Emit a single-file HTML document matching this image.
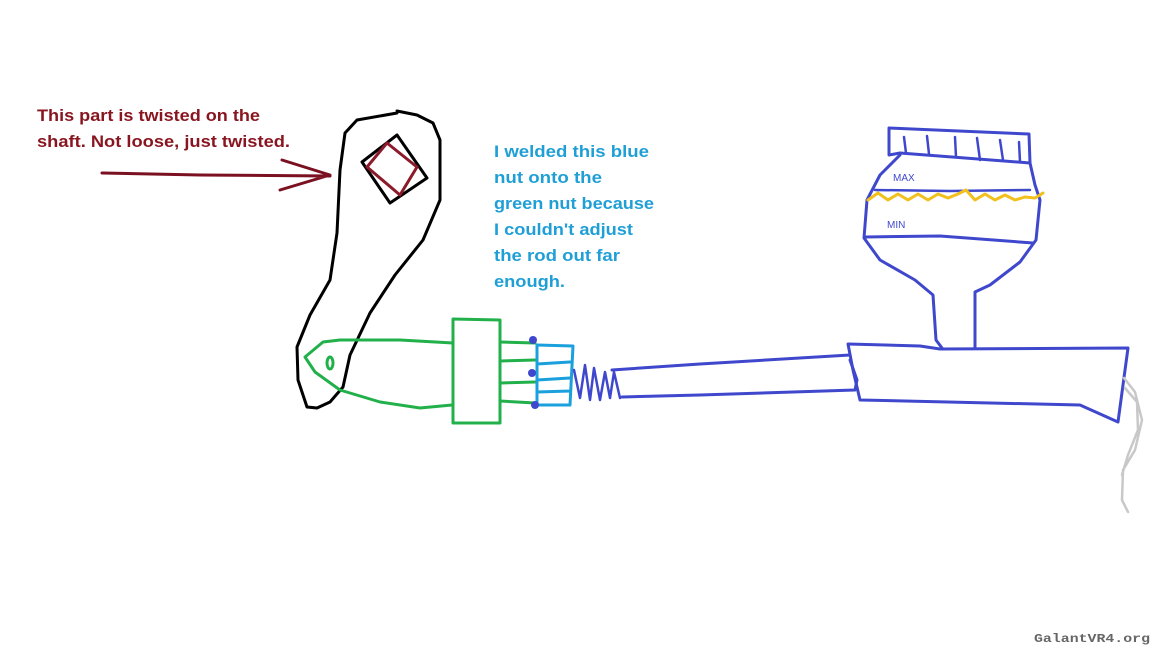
<!DOCTYPE html>
<html><head><meta charset="utf-8"><style>
html,body{margin:0;padding:0;background:#fff;}
svg{display:block;}
text{font-family:"Liberation Sans",sans-serif;font-weight:bold;}
</style></head><body>
<svg width="1152" height="648" viewBox="0 0 1152 648" xmlns="http://www.w3.org/2000/svg">
<rect width="1152" height="648" fill="#fff"/>
<g font-size="16.5" fill="#88151f">
<text x="37" y="121" textLength="223" lengthAdjust="spacingAndGlyphs">This part is twisted on the</text>
<text x="37" y="147" textLength="253" lengthAdjust="spacingAndGlyphs">shaft. Not loose, just twisted.</text>
</g>
<g font-size="16.5" fill="#1f9fd6">
<text x="494" y="157" textLength="155" lengthAdjust="spacingAndGlyphs">I welded this blue</text>
<text x="494" y="183" textLength="108" lengthAdjust="spacingAndGlyphs">nut onto the</text>
<text x="494" y="209" textLength="160" lengthAdjust="spacingAndGlyphs">green nut because</text>
<text x="494" y="235" textLength="139" lengthAdjust="spacingAndGlyphs">I couldn't adjust</text>
<text x="494" y="261" textLength="126" lengthAdjust="spacingAndGlyphs">the rod out far</text>
<text x="494" y="287" textLength="71" lengthAdjust="spacingAndGlyphs">enough.</text>
</g>
<g fill="none" stroke-linecap="round" stroke-linejoin="round">
<!-- red arrow -->
<path d="M102 173 L200 175 L330 176 M282 160 L330 175 L280 190" stroke="#7a1020" stroke-width="3"/>
<!-- black arm -->
<path d="M397 111 L417 115 L433 123 L440 140 L440 200 L423 240 L395 275 L370 313 L350 355 L343 387 L330 402 L317 408 L307 407 L298 380 L297 347 L310 315 L330 280 L337 233 L340 170 L345 133 L357 120 L397 113" stroke="#000" stroke-width="3"/>
<path d="M362 162 L397 135 L427 178 L390 203 Z" stroke="#000" stroke-width="3"/>
<path d="M367 167 L387 143 L417 167 L400 195 Z" stroke="#8b1a2a" stroke-width="3"/>
<!-- green -->
<path d="M453 343 L400 340 L340 340 L323 342 L305 357 L315 372 L340 390 L380 402 L420 408 L452 405" stroke="#22b04a" stroke-width="3"/>
<ellipse cx="330" cy="363" rx="3" ry="6" stroke="#22b04a" stroke-width="3"/>
<path d="M453 319 L500 320 L500 423 L453 423 Z" stroke="#22b04a" stroke-width="3"/>
<path d="M500 342 L535 343 M500 361 L535 360 M500 383 L535 382 M500 401 L535 403" stroke="#22b04a" stroke-width="3"/>
<!-- light blue nut -->
<path d="M537 345 L573 346 L570 405 L537 405 Z M537 364 L570 362 M537 380 L570 378 M537 392 L570 391" stroke="#1aa0dc" stroke-width="3"/>
<!-- spring & rod -->
<path d="M574 370 L580 398 L585 365 L590 400 L594 368 L600 400 L605 372 L610 398 L614 372 L620 398" stroke="#3f48cc" stroke-width="2.5"/>
<path d="M612 370 L700 364 L850 355 M622 397 L700 395 L855 390 M850 360 L857 380 L855 390" stroke="#3f48cc" stroke-width="3"/>
<!-- cylinder -->
<path d="M848 344 L920 346 L940 349 L1128 348 L1118 422 L1080 405 L860 400 L853 370 Z" stroke="#3f48cc" stroke-width="3"/>
<!-- reservoir -->
<path d="M889 128 L1029 134 L1030 163 L900 153 L889 155 Z" stroke="#3f48cc" stroke-width="3"/>
<path d="M904 137 L906 153 M927 136 L929 154 M955 137 L956 157 M977 138 L980 160 M1000 140 L1003 160 M1019 142 L1020 162" stroke="#3f48cc" stroke-width="2.5"/>
<path d="M900 155 L880 175 L867 200 L864 238 L880 260 L915 280 L933 295 L936 340 L942 348" stroke="#3f48cc" stroke-width="3"/>
<path d="M1030 163 L1035 185 L1040 200 L1036 240 L1020 262 L990 285 L975 292 L975 348" stroke="#3f48cc" stroke-width="3"/>
<path d="M875 190 L950 191 L1030 190" stroke="#3f48cc" stroke-width="2.5"/>
<path d="M865 237 L940 236 L1033 243" stroke="#3f48cc" stroke-width="3"/>
<path d="M868 200 L878 193 L888 200 L898 194 L908 200 L918 194 L928 200 L938 194 L948 198 L958 194 L966 190 L975 200 L985 194 L995 200 L1005 195 L1015 200 L1025 197 L1035 198 L1043 193" stroke="#f2c01e" stroke-width="3"/>
<!-- gray wire -->
<path d="M1124 378 L1135 392 L1142 420 L1135 450 L1123 470 L1122 500 L1128 512 M1125 388 L1137 402 L1138 430 L1128 455 L1122 475" stroke="#c8c8c8" stroke-width="2.5"/>
</g>
<g fill="#3f48cc">
<circle cx="533" cy="340" r="4"/><circle cx="532" cy="373" r="4"/><circle cx="535" cy="405" r="4"/>
</g>
<g font-size="10" fill="#3f48cc" font-weight="normal">
<text x="893" y="181" style="font-weight:normal">MAX</text>
<text x="887" y="228" style="font-weight:normal">MIN</text>
</g>
<text x="1034" y="642" font-size="12" fill="#666" style="font-family:'Liberation Mono',monospace;font-weight:bold" textLength="116" lengthAdjust="spacingAndGlyphs">GalantVR4.org</text>
</svg>
</body></html>
